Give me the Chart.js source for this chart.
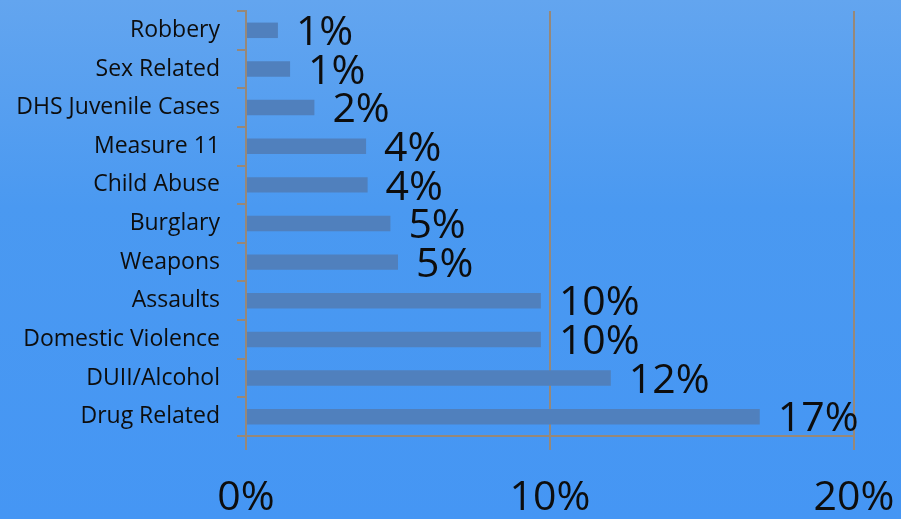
<!DOCTYPE html>
<html>
<head>
<meta charset="utf-8">
<script src="https://cdn.jsdelivr.net/npm/chart.js@4.4.1/dist/chart.umd.min.js"></script>
<style>
    html, body { margin: 0; padding: 0; }
    body {
        width: 901px;
        height: 519px;
        overflow: hidden;
        background: linear-gradient(#63a5ef, #4a99f1 40%, #4596f4);
    }
    #wrap { width: 901px; height: 519px; }
</style>
</head>
<body>
<div id="wrap"><canvas id="myChart"></canvas></div>
<script>
const categories = [
    'Robbery', 'Sex Related', 'DHS Juvenile Cases', 'Measure 11', 'Child Abuse',
    'Burglary', 'Weapons', 'Assaults', 'Domestic Violence', 'DUII/Alcohol', 'Drug Related'
];
const shares = [1.05, 1.45, 2.25, 3.95, 4.0, 4.75, 5.0, 9.7, 9.7, 12.0, 16.9];
const shareLabels = ['1%', '1%', '2%', '4%', '4%', '5%', '5%', '10%', '10%', '12%', '17%'];
const axisTicks = [0, 10, 20];
const axisTickLabels = ['0%', '10%', '20%'];

const AXIS_COLOR = '#978878';
const FONT = '"Open Sans", "DejaVu Sans", sans-serif';

// draws the big percentage next to each bar
const barValueLabels = {
    id: 'barValueLabels',
    afterDatasetsDraw(chart) {
        const ctx = chart.ctx;
        const meta = chart.getDatasetMeta(0);
        ctx.save();
        ctx.font = '41px ' + FONT;
        ctx.fillStyle = '#0d0d0d';
        ctx.textAlign = 'left';
        ctx.textBaseline = 'middle';
        meta.data.forEach((bar, i) => {
            ctx.fillText(shareLabels[i], bar.x + 18, bar.y + 3);
        });
        ctx.restore();
    }
};

document.addEventListener('DOMContentLoaded', function () {
    const ctx = document.getElementById('myChart').getContext('2d');

    new Chart(ctx, {
        type: 'bar',
        data: {
            labels: categories,
            datasets: [{
                data: shares,
                backgroundColor: '#5080bd',
                borderWidth: 0,
                barPercentage: 0.4,
                categoryPercentage: 1
            }]
        },
        options: {
            indexAxis: 'y',
            responsive: true,
            maintainAspectRatio: false,
            animation: false,
            layout: { padding: { top: 11, right: 47, left: 0, bottom: 0 } },
            plugins: {
                legend: { display: false },
                tooltip: { enabled: false }
            },
            scales: {
                x: {
                    min: 0,
                    max: 20,
                    afterBuildTicks: (scale) => {
                        scale.ticks = axisTicks.map(v => ({ value: v }));
                    },
                    afterFit: (scale) => {
                        scale.height = 83;
                        scale.paddingLeft = 0;
                        scale.paddingRight = 0;
                    },
                    ticks: {
                        callback: (v, i) => axisTickLabels[i],
                        color: '#0d0d0d',
                        font: { family: FONT, size: 41 },
                        padding: 24,
                        maxRotation: 0
                    },
                    grid: {
                        color: AXIS_COLOR,
                        lineWidth: 2,
                        tickLength: 14
                    },
                    border: { display: true, color: AXIS_COLOR, width: 2 }
                },
                y: {
                    afterFit: (scale) => {
                        scale.width = 246;
                        scale.paddingTop = 0;
                        scale.paddingBottom = 0;
                    },
                    ticks: {
                        color: '#0d0d0d',
                        font: { family: FONT, size: 23 },
                        padding: 17
                    },
                    grid: {
                        drawOnChartArea: false,
                        color: AXIS_COLOR,
                        lineWidth: 2,
                        tickLength: 9,
                        offset: true
                    },
                    border: { display: true, color: AXIS_COLOR, width: 2 }
                }
            }
        },
        plugins: [barValueLabels]
    });
});
</script>
</body>
</html>
